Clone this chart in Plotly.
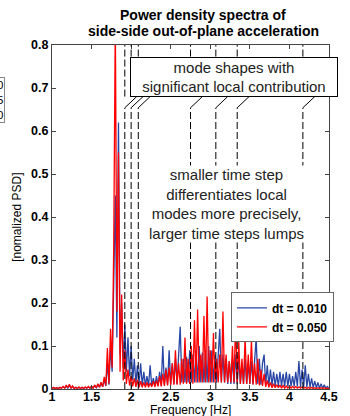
import plotly.graph_objects as go

# ---- data ----
FREQ_START = 1.0   # Hz
FREQ_STEP = 0.02   # Hz

# dt = 0.010 (blue)
psd_dt010 = [
    0.001, 0.003, 0.001, 0.003, 0.001, 0.003, 0.002, 0.005, 0.002, 0.007,
    0.002, 0.009, 0.002, 0.006, 0.001, 0.004, 0.001, 0.004, 0.001, 0.004,
    0.001, 0.004, 0.002, 0.005, 0.002, 0.006, 0.002, 0.008, 0.003, 0.010,
    0.004, 0.014, 0.005, 0.022, 0.007, 0.06, 0.01, 0.10, 0.04, 0.28,
    0.45, 0.12, 0.62, 0.08, 0.20, 0.05, 0.15, 0.04, 0.12, 0.03,
    0.10, 0.02, 0.07, 0.012, 0.055, 0.01, 0.06, 0.008, 0.04, 0.008,
    0.03, 0.007, 0.055, 0.007, 0.025, 0.008, 0.03, 0.008, 0.04, 0.009,
    0.10, 0.01, 0.05, 0.01, 0.09, 0.012, 0.06, 0.012, 0.07, 0.012,
    0.08, 0.145, 0.015, 0.07, 0.015, 0.075, 0.015, 0.09, 0.015, 0.08,
    0.015, 0.09, 0.015, 0.10, 0.015, 0.085, 0.015, 0.09, 0.015, 0.10,
    0.015, 0.09, 0.015, 0.08, 0.015, 0.09, 0.14, 0.015, 0.08, 0.015,
    0.07, 0.012, 0.065, 0.012, 0.07, 0.012, 0.08, 0.012, 0.07, 0.012,
    0.06, 0.012, 0.07, 0.012, 0.06, 0.012, 0.065, 0.012, 0.08, 0.12,
    0.012, 0.07, 0.01, 0.06, 0.08, 0.01, 0.055, 0.008, 0.045, 0.008,
    0.04, 0.007, 0.035, 0.007, 0.04, 0.007, 0.035, 0.006, 0.04, 0.006,
    0.035, 0.006, 0.03, 0.006, 0.04, 0.006, 0.065, 0.005, 0.045, 0.005,
    0.055, 0.004, 0.035, 0.004, 0.025, 0.003, 0.018, 0.003, 0.015, 0.002,
    0.012, 0.002, 0.01, 0.002, 0.006, 0.001,
]

# dt = 0.050 (red)
psd_dt050 = [
    0.001, 0.004, 0.001, 0.003, 0.001, 0.004, 0.002, 0.006, 0.002, 0.009,
    0.003, 0.011, 0.002, 0.007, 0.001, 0.004, 0.001, 0.005, 0.001, 0.004,
    0.001, 0.005, 0.002, 0.006, 0.002, 0.007, 0.002, 0.009, 0.003, 0.012,
    0.004, 0.016, 0.005, 0.028, 0.008, 0.095, 0.012, 0.14, 0.05, 0.33,
    0.86, 0.18, 0.55, 0.04, 0.22, 0.02, 0.09, 0.012, 0.045, 0.008,
    0.03, 0.006, 0.025, 0.005, 0.022, 0.004, 0.018, 0.004, 0.015, 0.004,
    0.016, 0.004, 0.014, 0.005, 0.018, 0.005, 0.02, 0.006, 0.03, 0.006,
    0.035, 0.007, 0.045, 0.008, 0.05, 0.008, 0.06, 0.01, 0.09, 0.01,
    0.06, 0.01, 0.07, 0.012, 0.12, 0.012, 0.07, 0.012, 0.10, 0.012,
    0.16, 0.015, 0.185, 0.015, 0.08, 0.015, 0.17, 0.015, 0.215, 0.015,
    0.09, 0.015, 0.13, 0.015, 0.07, 0.015, 0.08, 0.015, 0.18, 0.015,
    0.08, 0.015, 0.065, 0.015, 0.10, 0.015, 0.16, 0.015, 0.11, 0.012,
    0.07, 0.012, 0.12, 0.012, 0.08, 0.012, 0.115, 0.01, 0.06, 0.01,
    0.07, 0.008, 0.045, 0.007, 0.035, 0.005, 0.02, 0.004, 0.015, 0.003,
    0.012, 0.003, 0.01, 0.003, 0.009, 0.002, 0.008, 0.002, 0.007, 0.002,
    0.007, 0.002, 0.006, 0.002, 0.006, 0.002, 0.005, 0.002, 0.005, 0.002,
    0.004, 0.001, 0.004, 0.001, 0.004, 0.001, 0.003, 0.001, 0.003, 0.001,
    0.003, 0.001, 0.003, 0.001, 0.002, 0.001,
]

series_names = ["dt = 0.010", "dt = 0.050"]
mode_freqs = [1.92, 2.00, 2.09, 2.75, 3.07, 3.34, 4.17]

x_ticks = [1, 1.5, 2, 2.5, 3, 3.5, 4, 4.5]
x_tick_labels = ["1", "1.5", "2", "2.5", "3", "3.5", "4", "4.5"]
y_ticks = [0, 0.1, 0.2, 0.3, 0.4, 0.5, 0.6, 0.7, 0.8]
y_tick_labels = ["0", "0.1", "0.2", "0.3", "0.4", "0.5", "0.6", "0.7", "0.8"]

title_lines = ["Power density spectra of", "side-side out-of-plane acceleration"]
box_text = "mode shapes with<br>significant local contribution"
note_text = ("smaller time step<br>differentiates local<br>"
             "modes more precisely,<br>larger time steps lumps")

FONT = "Liberation Sans, Arial, Helvetica, sans-serif"

fig = go.Figure()
fig.add_trace(go.Scatter(
    x0=FREQ_START, dx=FREQ_STEP, y=psd_dt010, name=series_names[0],
    mode="lines", line=dict(color="rgb(40,70,165)", width=1.3),
))
fig.add_trace(go.Scatter(
    x0=FREQ_START, dx=FREQ_STEP, y=psd_dt050, name=series_names[1],
    mode="lines", line=dict(color="rgb(255,0,0)", width=1.3),
))

shapes = []
for f in mode_freqs:
    shapes.append(dict(type="line", xref="x", yref="y", x0=f, x1=f, y0=0, y1=0.654,
                       line=dict(color="black", width=1, dash="7px,3px")))
    shapes.append(dict(type="line", xref="x", yref="y", x0=f, x1=f, y0=0.68, y1=0.8,
                       line=dict(color="black", width=1, dash="7px,3px")))
    shapes.append(dict(type="line", xref="x", yref="y", x0=f, x1=f + 0.15, y0=0.654, y1=0.68,
                       line=dict(color="black", width=1)))

def ann(text, x, y, **kw):
    d = dict(text=text, xref="paper", yref="paper", x=x, y=y, showarrow=False,
             xanchor="center", yanchor="middle")
    d.update(kw)
    return d

annotations = [
    ann("<b>%s</b>" % title_lines[0], 0.546, 1.087,
        font=dict(size=14, color="black", family=FONT)),
    ann("<b>%s</b>" % title_lines[1], 0.546, 1.0406,
        font=dict(size=14, color="black", family=FONT)),
    ann(box_text, 0.658, 0.9058,
        font=dict(size=15, color="#222", family=FONT), bgcolor="white",
        bordercolor="black", borderwidth=1, borderpad=1, width=204, height=36),
    ann(note_text, 0.6286, 0.538,
        font=dict(size=15, color="#222", family=FONT), bgcolor="white", borderpad=0),
    ann("[nomalized PSD]", -0.125, 0.4986, textangle=-90,
        font=dict(size=12, color="black", family=FONT)),
    ann("Frequency [Hz]", 0.5, -0.06,
        font=dict(size=12, color="black", family=FONT)),
    ann("dt = 0.010<br>dt = 0.025<br>dt = 0.050", -0.168, 0.8406, xanchor="right",
        align="right", font=dict(size=11.5, color="black", family=FONT),
        bordercolor="#888", borderwidth=1, borderpad=1),
]

fig.update_layout(
    width=350, height=416,
    margin=dict(l=52, r=18, t=45, b=26),
    paper_bgcolor="white", plot_bgcolor="white",
    font=dict(family=FONT, color="black"),
    showlegend=True,
    legend=dict(x=0.646, y=0.281, xanchor="left", yanchor="top",
                bgcolor="white", bordercolor="#666", borderwidth=1,
                font=dict(size=12, weight="bold", family=FONT, color="black"),
                itemwidth=30, tracegroupgap=0),
    shapes=shapes,
    annotations=annotations,
)
fig.update_xaxes(range=[1, 4.5], tickvals=x_ticks, ticktext=x_tick_labels,
                 ticks="inside", ticklen=4, tickcolor="#444", showline=True,
                 linecolor="#444", linewidth=1, mirror="ticks", showgrid=False,
                 zeroline=False, ticklabelstandoff=-4,
                 tickfont=dict(size=12.5, weight="bold", family=FONT))
fig.update_yaxes(range=[0, 0.8], tickvals=y_ticks, ticktext=y_tick_labels,
                 ticks="inside", ticklen=4, tickcolor="#444", showline=True,
                 linecolor="#444", linewidth=1, mirror="ticks", showgrid=False,
                 zeroline=False,
                 tickfont=dict(size=12.5, weight="bold", family=FONT))

fig.write_html(
    "out.html",
    config={"displayModeBar": False},
    post_script="document.body.style.margin='0';document.body.style.overflow='hidden';",
)
